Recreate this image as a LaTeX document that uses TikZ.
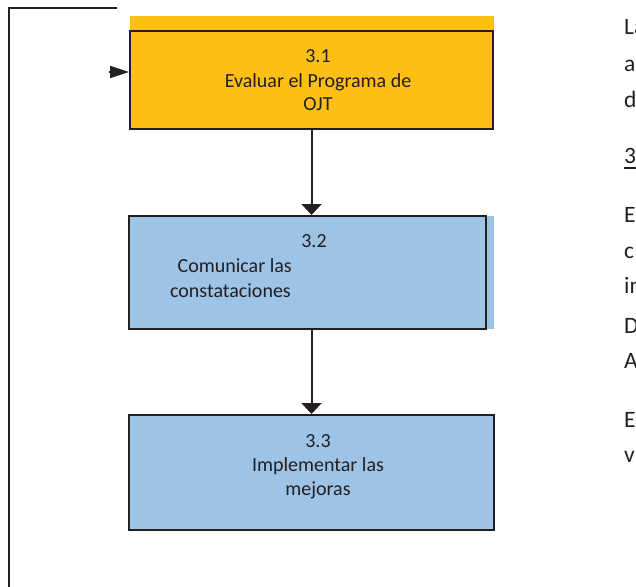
\documentclass[tikz,border=0pt]{standalone}
\usepackage{fontspec}
\setmainfont{Carlito}
\usetikzlibrary{arrows.meta}
\definecolor{boxyellow}{HTML}{FBBF15}
\definecolor{boxblue}{HTML}{9DC3E6}
\definecolor{ink}{HTML}{231F20}
\tikzset{
  boxshape/.style={draw=ink, line width=2pt, rectangle, inner sep=0pt},
  boxtext/.style={inner sep=0pt, text=ink, font=\fontsize{20}{24}\selectfont},
  sidetext/.style={inner sep=0pt, text=ink, anchor=base west, font=\fontsize{23.5}{28}\selectfont},
  arr/.style={draw=ink, line width=2pt, -{Triangle[length=11pt,width=20pt]}},
  lefttip/.style={draw=ink, line width=2pt, -{Triangle[length=19pt,width=12pt]}},
  feed/.style={draw=ink, line width=2pt}
}
\begin{document}
\begin{tikzpicture}[x=1pt,y=-1pt]
\useasboundingbox (0,0) rectangle (636,586);
\clip (0,0) rectangle (636,586);
% colour backgrounds that stick out of the frames
\fill[boxyellow] (130,16) rectangle (494,130);
\fill[boxblue] (129,216) rectangle (494,329);
% boxes
\node[boxshape, fill=boxyellow, minimum width=363pt, minimum height=98pt] (box1) at (311.5,80) {};
\node[boxshape, fill=boxblue, minimum width=357pt, minimum height=113pt] (box2) at (307.5,272.5) {};
\node[boxshape, fill=boxblue, minimum width=365pt, minimum height=115pt] (box3) at (311.5,472.5) {};
% box texts
\node[boxtext, anchor=base] (t11) at (318,62) {3.1};
\node[boxtext, anchor=base] (t12) at (318,87) {Evaluar el Programa de};
\node[boxtext, anchor=base] (t13) at (318,110) {OJT};
\node[boxtext, anchor=base] (t21) at (314,247) {3.2};
\node[boxtext, anchor=base east] (t22) at (292,272) {Comunicar las};
\node[boxtext, anchor=base east] (t23) at (291,297) {constataciones};
\node[boxtext, anchor=base] (t31) at (318,447) {3.3};
\node[boxtext, anchor=base] (t32) at (318,471) {Implementar las};
\node[boxtext, anchor=base] (t33) at (318,495) {mejoras};
% connectors
\draw[arr] (box1.south) -- (box1.south |- box2.north);
\draw[arr] (box2.south -| box3.north) -- (box3.north);
% feedback line
\coordinate (fbA) at (117,8);
\coordinate (fbB) at (8.5,8);
\coordinate (fbC) at (8.5,600);
\draw[feed] (fbA) -- (fbB) -- (fbC);
\coordinate (tipstart) at (109,72);
\draw[lefttip] (tipstart) -- (tipstart -| box1.west);
% side text (cut by the page edge)
\node[sidetext] (s1) at (624,35) {La};
\node[sidetext] (s2) at (624,71) {a};
\node[sidetext] (s3) at (624,107) {d};
\node[sidetext] (s4) at (624,163) {3};
\coordinate (ulA) at (624,168);
\coordinate (ulB) at (636,168);
\draw[draw=ink, line width=1.5pt] (ulA) -- (ulB);
\node[sidetext] (s5) at (624,222) {E};
\node[sidetext] (s6) at (624,258) {c};
\node[sidetext] (s7) at (624,293) {in};
\node[sidetext] (s8) at (624,333) {D};
\node[sidetext] (s9) at (624,368) {A};
\node[sidetext] (s10) at (624,427) {E};
\node[sidetext] (s11) at (624,462) {v};
\end{tikzpicture}
\end{document}
